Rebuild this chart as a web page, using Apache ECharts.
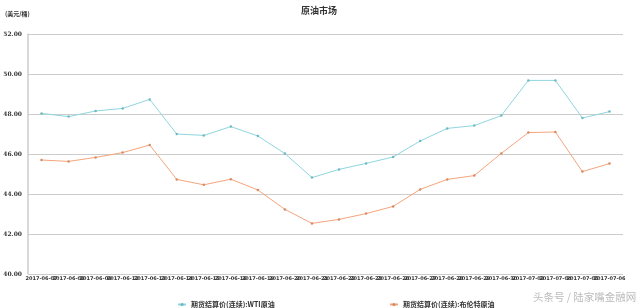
<!DOCTYPE html>
<html>
<head>
<meta charset="utf-8">
<script src="https://cdn.jsdelivr.net/npm/echarts@6/dist/echarts.min.js"></script>
<style>
html,body{margin:0;padding:0;background:#fff;}
#chart{width:640px;height:308px;}
</style>
</head>
<body>
<div id="chart"></div>
<script>
const categories = ['2017-06-07','2017-06-08','2017-06-09','2017-06-12','2017-06-13','2017-06-14','2017-06-15','2017-06-16','2017-06-19','2017-06-20','2017-06-21','2017-06-22','2017-06-23','2017-06-26','2017-06-27','2017-06-28','2017-06-29','2017-06-30','2017-07-03','2017-07-04','2017-07-05','2017-07-06'];
const seriesNames = ['期货结算价(连续):WTI原油','期货结算价(连续):布伦特原油'];
const wti = [48.03,47.87,48.15,48.28,48.73,47.00,46.93,47.37,46.90,46.02,44.82,45.23,45.53,45.85,46.65,47.28,47.42,47.92,49.68,49.68,47.80,48.12];
const brent = [45.70,45.63,45.83,46.07,46.45,44.73,44.46,44.74,44.20,43.23,42.53,42.73,43.02,43.38,44.23,44.73,44.92,46.03,47.07,47.10,45.12,45.52];
const yTicks = [40,42,44,46,48,50,52];

const chart = echarts.init(document.getElementById('chart'));
const font = '"Noto Sans CJK SC", sans-serif';
chart.setOption({
  animation: false,
  backgroundColor: '#fff',
  title: {
    text: '原油市场', left: 296, top: 1,
    textStyle: {fontSize: 9, fontWeight: 'bold', color: '#333', fontFamily: font}
  },
  graphic: [
    {type: 'text', left: 5, top: 11, style: {text: '(美元/桶)', fontSize: 6, fontWeight: 'bold', fill: '#333', fontFamily: font}},
    {type: 'text', left: 533, top: 292, style: {text: '头条号 / 陆家嘴金融网', fontSize: 10.5, fill: '#bbb', fontFamily: font}}
  ],
  legend: [
    {data: [seriesNames[0]], left: 172, top: 296, itemWidth: 8, itemHeight: 4, itemGap: 2,
     textStyle: {fontSize: 7, fontWeight: 'bold', color: '#333', fontFamily: font}},
    {data: [seriesNames[1]], left: 384, top: 296, itemWidth: 8, itemHeight: 4, itemGap: 2,
     textStyle: {fontSize: 7, fontWeight: 'bold', color: '#333', fontFamily: font}}
  ],
  grid: {left: 28, right: 17, top: 34, bottom: 34},
  xAxis: {
    type: 'category', data: categories, boundaryGap: true,
    axisLine: {show: false}, axisTick: {show: false},
    axisLabel: {interval: 0, fontSize: 5, fontWeight: 'bold', color: '#333', margin: 2, fontFamily: 'DejaVu Sans'},
    splitLine: {show: false}
  },
  yAxis: {
    type: 'value', min: yTicks[0], max: yTicks[yTicks.length - 1], interval: 2,
    axisLine: {show: true, lineStyle: {color: '#ccc', width: 1.5}},
    axisTick: {show: false},
    axisLabel: {fontSize: 6, fontWeight: 'bold', color: '#333', margin: 6, fontFamily: 'DejaVu Serif',
      formatter: v => v.toFixed(2)},
    splitLine: {lineStyle: {color: '#ccc', width: 1}}
  },
  series: [
    {name: seriesNames[0], type: 'line', data: wti, symbol: 'circle', symbolSize: 2.5,
     lineStyle: {color: '#8fd6df', width: 1}, itemStyle: {color: '#6fb9c2'}, color: '#8fd6df'},
    {name: seriesNames[1], type: 'line', data: brent, symbol: 'circle', symbolSize: 2.5,
     lineStyle: {color: '#f5a57c', width: 1}, itemStyle: {color: '#d98a63'}, color: '#f5a57c'}
  ]
});
</script>
</body>
</html>
